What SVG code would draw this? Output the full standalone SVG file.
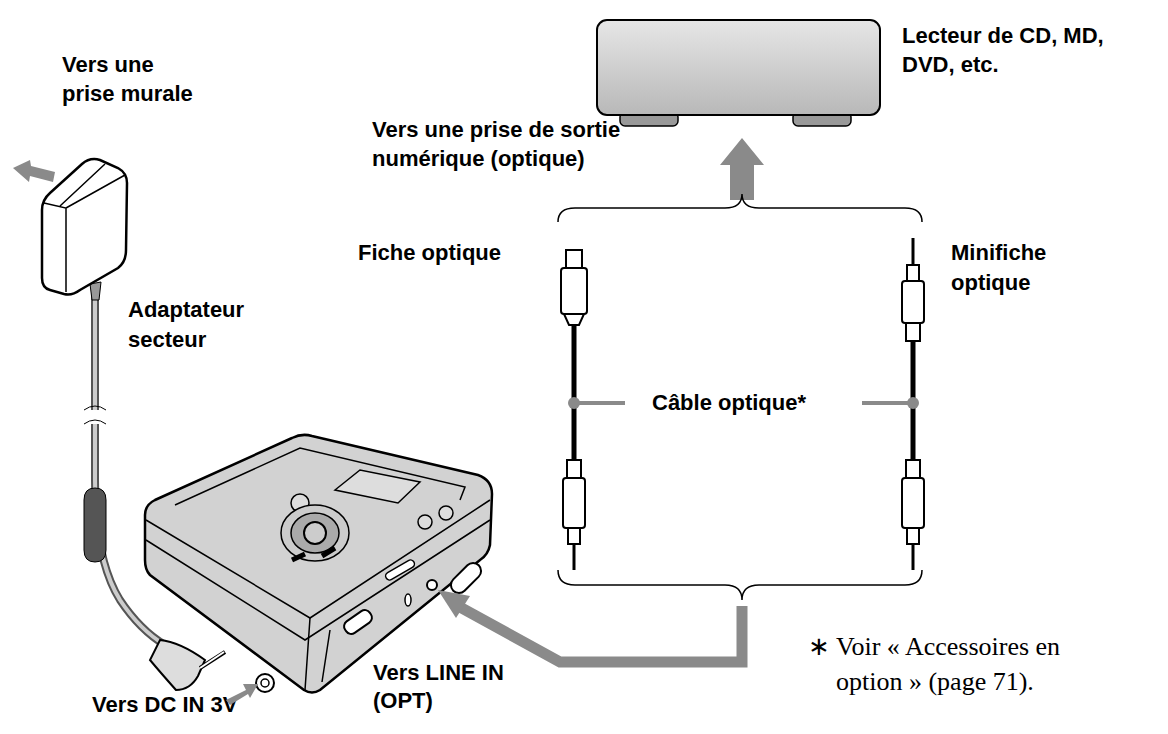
<svg xmlns="http://www.w3.org/2000/svg" width="1168" height="734" viewBox="0 0 1168 734">
<style>
.t{font-family:"Liberation Sans",Arial,sans-serif;font-weight:bold;font-size:22px;fill:#000}
.s{font-family:"Liberation Serif","Times New Roman",serif;font-size:26px;fill:#000}
.br{fill:none;stroke:#000;stroke-width:1.5}
.ga{fill:#8a8a8a}
.cab{stroke:#000;stroke-width:5;fill:none}
.pl{fill:#fff;stroke:#000;stroke-width:2}
.ln{fill:none;stroke:#000;stroke-width:1.5}
</style>
<defs>
<linearGradient id="g1" x1="0" y1="0" x2="0" y2="1"><stop offset="0" stop-color="#e6e6e6"/><stop offset="1" stop-color="#b8b8b8"/></linearGradient>
</defs>
<rect width="1168" height="734" fill="#fff"/>
<g id="cdplayer">
<rect x="620" y="112" width="58" height="14" rx="5" fill="#999" stroke="#000" stroke-width="1.5"/>
<rect x="793" y="112" width="58" height="14" rx="5" fill="#999" stroke="#000" stroke-width="1.5"/>
<rect x="597" y="20" width="283" height="95" rx="10" fill="url(#g1)" stroke="#000" stroke-width="2"/>
</g>
<g id="labels">
<text class="t" x="902" y="43">Lecteur de CD, MD,</text>
<text class="t" x="902" y="72">DVD, etc.</text>
<text class="t" x="62" y="72">Vers une</text>
<text class="t" x="62" y="101">prise murale</text>
<text class="t" x="372" y="137">Vers une prise de sortie</text>
<text class="t" x="372" y="166">numérique (optique)</text>
<text class="t" x="358" y="260">Fiche optique</text>
<text class="t" x="951" y="260">Minifiche</text>
<text class="t" x="951" y="290">optique</text>
<text class="t" x="128" y="317">Adaptateur</text>
<text class="t" x="128" y="347">secteur</text>
<text class="t" x="652" y="410">Câble optique*</text>
<text class="t" x="92" y="712">Vers DC IN 3V</text>
<text class="t" x="373" y="680">Vers LINE IN</text>
<text class="t" x="373" y="708">(OPT)</text>
<text class="s" x="808" y="655">∗ Voir « Accessoires en</text>
<text class="s" x="836" y="690">option » (page 71).</text>
</g>
<g id="adapter">
<path d="M95 292 V410 M95 424 V480 Q95 560 120 600 Q140 630 165 645" fill="none" stroke="#555" stroke-width="8"/>
<path d="M95 292 V410 M95 424 V480 Q95 560 120 600 Q140 630 165 645" fill="none" stroke="#ccc" stroke-width="4"/>
<path d="M84 410 Q95 402 106 410 M84 424 Q95 416 106 424" fill="none" stroke="#000"/>
<path d="M84 500 Q84 488 95 488 Q106 488 106 500 V550 Q106 562 95 562 Q84 562 84 550 Z" fill="#555" stroke="#000"/>
<path d="M90 284 L92 300 L99 300 L101 282 Z" fill="#999" stroke="#000"/>
<path d="M42 210 Q42 200 50 193 L82 164 Q90 157 100 160 L118 168 Q127 173 127 183 L126 250 Q126 262 118 268 L80 290 Q72 296 64 294 L50 290 Q42 288 42 278 Z" fill="#fff" stroke="#000" stroke-width="2.5"/>
<path d="M44 203 L66 208 L66 292 M66 208 L125 175 M60 206 L105 164" class="ln"/>
<path d="M160 640 Q180 642 205 660 L198 676 Q190 690 176 690 Q160 672 150 660 Z" fill="#ddd" stroke="#000" stroke-width="2"/>
<line x1="200" y1="668" x2="225" y2="652" stroke="#000" stroke-width="4"/>
<line x1="200" y1="668" x2="224" y2="652" stroke="#fff" stroke-width="2"/>
</g>
<g id="mdplayer">
<path d="M145 515 Q145 505 155 500 L292 438 Q302 433 312 436 L478 475 Q492 480 492 494 L490 545 Q488 555 480 560 L320 690 Q312 695 304 690 L150 575 Q145 570 145 560 Z" fill="#d2d2d2" stroke="#000" stroke-width="2.5"/>
<path d="M146 520 L310 618 L490 500" class="ln"/>
<path d="M146 540 L305 640 L490 520" class="ln"/>
<path d="M310 618 L305 690 M330 630 L322 682" class="ln"/>
<path d="M175 505 L300 448 L465 487 L460 500" class="ln"/>
<path d="M335 490 L360 470 L420 482 L398 503 Z" fill="#ddd" stroke="#000" stroke-width="1.5"/>
<circle cx="300" cy="503" r="9" fill="#ddd" stroke="#000" stroke-width="1.5"/>
<ellipse cx="315" cy="533" rx="34" ry="28" fill="#ccc" stroke="#000" stroke-width="1.5"/>
<ellipse cx="315" cy="533" rx="24" ry="20" fill="#aaa" stroke="#000" stroke-width="1.5"/>
<circle cx="315" cy="533" r="11" fill="#ccc" stroke="#000" stroke-width="2"/>
<path d="M292 560 L305 554 M322 556 L335 548" stroke="#000" stroke-width="5"/>
<circle cx="425" cy="522" r="7" fill="#ddd" stroke="#000" stroke-width="1.5"/>
<circle cx="446" cy="513" r="7" fill="#ddd" stroke="#000" stroke-width="1.5"/>
<circle cx="265" cy="683" r="9" fill="#fff" stroke="#000" stroke-width="2"/>
<circle cx="265" cy="683" r="4" fill="#fff" stroke="#000" stroke-width="1.5"/>
<circle cx="432" cy="585" r="5" fill="#fff" stroke="#000" stroke-width="2"/>
<ellipse cx="408" cy="600" rx="3" ry="6" fill="#fff" stroke="#000" stroke-width="1.5"/>
<rect x="384" y="566" width="32" height="8" rx="4" fill="#fff" stroke="#000" stroke-width="1.5" transform="rotate(-30 400 570)"/>
<rect x="448" y="570" width="36" height="16" rx="8" fill="#fff" stroke="#000" stroke-width="2" transform="rotate(-45 466 578)"/>
<rect x="343" y="615" width="30" height="14" rx="6" fill="#fff" stroke="#000" stroke-width="2" transform="rotate(-35 358 622)"/>
</g>
<g id="cable-left">
<line class="cab" x1="574" y1="320" x2="574" y2="460"/>
<circle cx="574" cy="403" r="6" fill="#8a8a8a"/>
<rect class="pl" x="566" y="250" width="16" height="18"/>
<rect class="pl" x="561" y="268" width="26" height="46" rx="3"/>
<path class="pl" d="M564 314 L584 314 L579 325 L569 325 Z"/>
<rect class="pl" x="567" y="460" width="14" height="18"/>
<rect class="pl" x="563" y="478" width="22" height="50" rx="3"/>
<rect class="pl" x="568" y="528" width="12" height="16"/>
<line x1="574" y1="544" x2="574" y2="570" stroke="#000" stroke-width="3"/>
</g>
<g id="cable-right">
<line class="cab" x1="913" y1="340" x2="913" y2="460"/>
<circle cx="913" cy="403" r="6" fill="#8a8a8a"/>
<line x1="913" y1="238" x2="913" y2="265" stroke="#000" stroke-width="3"/>
<rect class="pl" x="907" y="265" width="12" height="16"/>
<rect class="pl" x="902" y="281" width="22" height="42" rx="3"/>
<rect class="pl" x="906" y="323" width="14" height="18"/>
<rect class="pl" x="906" y="460" width="14" height="18"/>
<rect class="pl" x="902" y="478" width="22" height="50" rx="3"/>
<rect class="pl" x="907" y="528" width="12" height="16"/>
<line x1="913" y1="544" x2="913" y2="570" stroke="#000" stroke-width="3"/>
</g>
<g id="connectors">
<path class="ga" d="M730 200 V165 H720 L742 138 L764 165 H754 V200 Z"/>
<path class="br" d="M558 222 Q558 208 575 208 H725 Q742 208 742 194 Q742 208 759 208 H905 Q922 208 922 222"/>
<path class="br" d="M558 570 Q558 585 575 585 H725 Q742 585 742 600 Q742 585 759 585 H905 Q922 585 922 570"/>
<path d="M742 606 V662 H560 L458 606" fill="none" stroke="#8a8a8a" stroke-width="11"/>
<path class="ga" d="M438 590 L470 596 L456 618 Z"/>
<line x1="574" y1="403" x2="625" y2="403" stroke="#8a8a8a" stroke-width="4"/>
<line x1="862" y1="403" x2="913" y2="403" stroke="#8a8a8a" stroke-width="4"/>
<path class="ga" d="M13 168 L30 160 L31 166 L55 172 L53 182 L30 176 L29 182 Z"/>
<path class="ga" d="M226 700 L246 690 L243 684 L258 684 L250 698 L248 694 L230 705 Z"/>
</g>
</svg>
